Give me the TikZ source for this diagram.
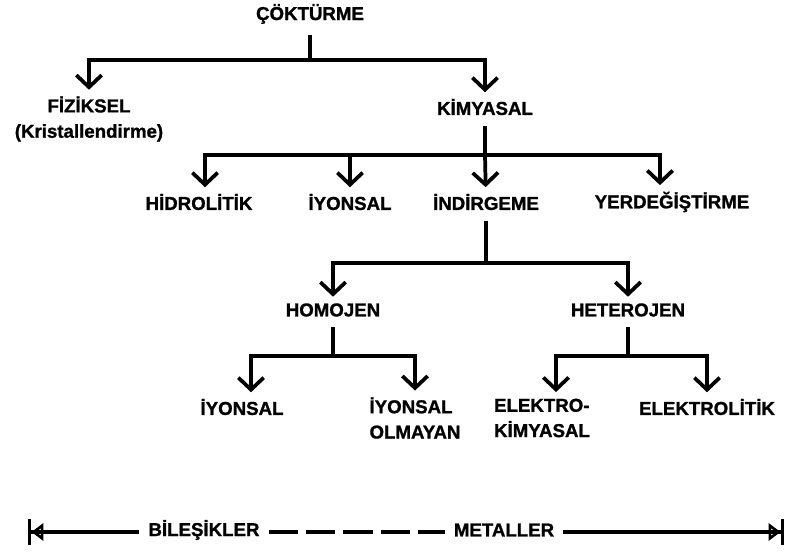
\documentclass[tikz,border=0pt]{standalone}
\usepackage{fontspec}
\setmainfont{Liberation Sans}[BoldFeatures={FakeBold=1.2}]
\usetikzlibrary{arrows.meta,positioning}

\begin{document}
\begin{tikzpicture}[x=0.75pt,y=-0.75pt,>={Straight Barb[length=9pt,width=19pt]},
 line width=2.8pt,
 every node/.style={font=\bfseries\fontsize{14}{19}\selectfont},
 term/.style={inner sep=1pt,outer sep=7pt},
 arr/.style={->,shorten >=-3pt},
 bound/.tip={Triangle[open,length=9pt,width=13pt,line width=2pt]Bar[width=20pt,line width=2.6pt]}]
 \useasboundingbox (0,0) rectangle (794,555);
 % top levels
 \node[term] (cok) at (310,14) {ÇÖKTÜRME};
 \node[term,align=center] (fiz) at (89,119) {FİZİKSEL\\(Kristallendirme)};
 \node[term] (kim) at (485,107) {KİMYASAL};
 \node[term] (hid) at (199,202) {HİDROLİTİK};
 \node[term] (iyo) at (350,202) {İYONSAL};
 \node[term] (ind) at (486,202) {İNDİRGEME};
 \node[term] (yer) at (672,202) {YERDEĞİŞTİRME};
 \node[term] (hom) at (333,310) {HOMOJEN};
 \node[term] (het) at (628,310) {HETEROJEN};
 \node[term] (iyh) at (242,407) {İYONSAL};
 \node[term,align=left] (iyd) at (415,418) {İYONSAL\\OLMAYAN};
 \node[term,align=left] (elk) at (542,418) {ELEKTRO-\\KİMYASAL};
 \node[term] (elt) at (707,407) {ELEKTROLİTİK};
 % junctions
 \coordinate (j1) at (310,60);
 \coordinate (j2) at (485,155);
 \coordinate (j3) at (486,263);
 \coordinate (j4) at (333,356);
 \coordinate (j5) at (628,356);
 \draw (cok) -- (j1);
 \draw[arr] (j1) -| (fiz);
 \draw[arr] (j1) -| (kim);
 \draw (kim) -- (j2);
 \draw[arr] (j2) -| ([xshift=4.5pt]hid.north);
 \draw[arr] (j2) -| (iyo);
 \draw[arr] (j2) -- (ind);
 \draw[arr] (j2) -| ([xshift=-9pt]yer.north);
 \draw (ind) -- (j3);
 \draw[arr] (j3) -| (hom);
 \draw[arr] (j3) -| (het);
 \draw (hom) -- (j4);
 \draw[arr] (j4) -| ([xshift=6.75pt]iyh.north);
 \draw[arr] (j4) -| (iyd);
 \draw (het) -- (j5);
 \draw[arr] (j5) -| ([xshift=10.5pt]elk.north);
 \draw[arr] (j5) -| (elt);
 % bottom scale
 \node[inner sep=1pt,outer sep=6pt] (bil) at (204,530) {BİLEŞİKLER};
 \node[inner sep=1pt,outer sep=6pt] (met) at (504,530) {METALLER};
 \coordinate (lend) at (28,532);
 \coordinate (rend) at (784,532);
 \draw[{bound}-] (lend) -- (bil.west |- lend);
 \draw[dash pattern=on 22pt off 6pt] (bil.east |- lend) -- (met.west |- lend);
 \draw[-{bound}] (met.east |- rend) -- (rend);
\end{tikzpicture}
\end{document}
